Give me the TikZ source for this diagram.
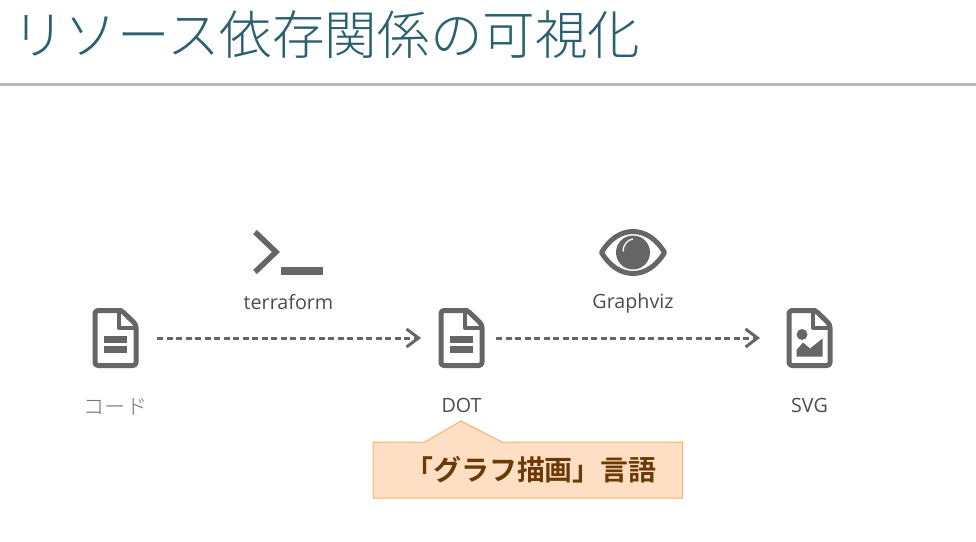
\documentclass[tikz,border=0pt]{standalone}
\usepackage{fontspec}
\usepackage{xcolor}
\setmainfont{Open Sans}
\newfontfamily\jpthin{Noto Sans CJK JP Light}
\newfontfamily\jpfont{Noto Sans CJK JP}
\newfontfamily\jpbold{Noto Sans CJK JP Bold}
\usetikzlibrary{arrows.meta,positioning,calc}
\definecolor{titleteal}{HTML}{2B6070}
\definecolor{icongray}{HTML}{666666}
\definecolor{notefill}{HTML}{FFDFC4}
\definecolor{noteedge}{HTML}{F2B46A}
\definecolor{notetext}{HTML}{6B3A08}

\begin{document}
\begin{tikzpicture}[
    iconbox/.style={minimum width=0.9cm, minimum height=1.2cm, inner sep=0, outer sep=0},
    lbl/.style={font=\fontsize{11.2}{13}\selectfont, text=black!70, inner sep=0},
    flow/.style={-{Straight Barb[length=0.24cm, width=0.36cm, line width=0.06cm]}, icongray, line width=0.06cm, dash pattern=on 0.12cm off 0.07cm},
    docfile/.pic={
      \draw[icongray, line width=0.1cm, line join=round, rounded corners=0.06cm]
        (0.05,0.55) -- (-0.41,0.55) -- (-0.41,-0.55) -- (0.41,-0.55) -- (0.41,0.27) -- (0.12,0.55) -- cycle;
      \draw[icongray, line width=0.08cm, line join=round] (0.07,0.55) -- (0.07,0.21) -- (0.41,0.21);
    },
    docbars/.pic={
      \fill[icongray] (-0.23,0.04) rectangle (0.23,-0.09);
      \fill[icongray] (-0.23,-0.16) rectangle (0.23,-0.29);
    },
    docimage/.pic={
      \fill[icongray] (-0.15,0.07) circle (0.11);
      \fill[icongray] (-0.26,-0.37) -- (-0.26,-0.24) -- (-0.13,-0.09) -- (0.01,-0.21) -- (0.26,-0.01) -- (0.26,-0.37) -- cycle;
    },
    prompt/.pic={
      \draw[icongray, line width=0.11cm] (-0.67,0.4) -- (-0.25,0) -- (-0.67,-0.4);
      \fill[icongray] (-0.16,-0.3) rectangle (0.69,-0.46);
    },
    eyeball/.pic={
      \draw[icongray, line width=0.1cm, line join=round] (-0.63,0) .. controls (-0.3,0.56) and (0.3,0.56) .. (0.63,0) .. controls (0.3,-0.56) and (-0.3,-0.56) .. (-0.63,0) -- cycle;
      \fill[icongray] (0,0) circle (0.34);
      \draw[white, line width=0.025cm] (-0.2,0.02) .. controls (-0.2,0.16) and (-0.1,0.26) .. (0,0.27);
    }
  ]
    \useasboundingbox (0,0) rectangle (19.52,10.82);
    \fill[white] (0,0) rectangle (19.52,10.82);

    \node[anchor=base west, inner sep=0, text=titleteal, font=\jpthin\fontsize{29.9}{36}\selectfont] (title) at (0.24,9.72) {リソース依存関係の可視化};
    \fill[black!28] (0,9.16) rectangle (19.52,9.1);

    \node[iconbox] (code) at (2.31,4.06) {};
    \node[iconbox] (dot)  at (9.23,4.06) {};
    \node[iconbox] (svg)  at (16.19,4.06) {};
    \pic at (code) {docfile};
    \pic at (code) {docbars};
    \pic at (dot) {docfile};
    \pic at (dot) {docbars};
    \pic at (svg) {docfile};
    \pic at (svg) {docimage};

    \node[lbl, font=\jpthin\fontsize{12}{13}\selectfont, text=black!55] (codelbl) at (2.31,2.69) {コード};
    \node[lbl] (dotlbl) at (9.23,2.72) {DOT};
    \node[lbl] (svglbl) at (16.19,2.72) {SVG};

    \coordinate (termicon) at (5.77,5.78);
    \coordinate (eyeicon)  at (12.66,5.77);
    \pic at (termicon) {prompt};
    \pic at (eyeicon) {eyeball};
    \node[lbl] (terraform) at (5.77,4.78) {terraform};
    \node[lbl] (graphviz)  at (12.66,4.75) {Graphviz};

    \draw[flow, shorten <=0.38cm, shorten >=0.36cm] (code) -- (dot);
    \draw[flow, shorten <=0.24cm, shorten >=0.54cm] (dot) -- (svg);

    \draw[fill=notefill, draw=noteedge, line width=0.02cm] (7.46,0.86) -- (7.46,1.98) -- (8.5,1.98) -- (9.22,2.4) -- (10.04,1.98) -- (13.65,1.98) -- (13.65,0.86) -- cycle;
    \node[inner sep=0, text=notetext, font=\jpbold\fontsize{15.9}{18}\selectfont] (note) at (10.62,1.42) {「グラフ描画」言語};
  \end{tikzpicture}
\end{document}
